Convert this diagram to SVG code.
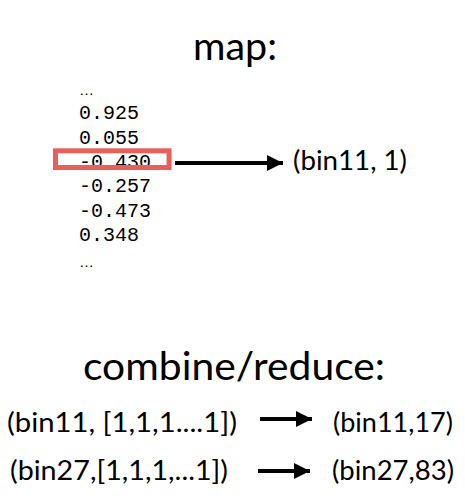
<svg xmlns="http://www.w3.org/2000/svg" width="465" height="496" viewBox="0 0 465 496">
<style>
.t{font-family:Lato,"Open Sans",sans-serif;fill:#000}
.h{font-size:38px}
.m{font-family:"Liberation Mono","DejaVu Sans Mono",monospace;font-size:20px;fill:#000}
.e{font-family:"Liberation Sans",sans-serif;font-size:15px;fill:#000}
.l{font-size:26px}
.c{stroke:#000;stroke-width:4;fill:none}
</style>
<defs>
<marker id="ah" markerUnits="userSpaceOnUse" markerWidth="18" markerHeight="16" refX="16" refY="8" orient="auto">
<path d="M0,0 L16,8 L0,16 Z" fill="#000"/>
</marker>
</defs>
<g id="title-map"><text class="t h" x="193" y="60" textLength="84" lengthAdjust="spacingAndGlyphs">map:</text></g>
<g id="values">
<text class="e" x="79" y="95">…</text>
<text class="m" x="79" y="119">0.925</text>
<text class="m" x="79" y="143.5">0.055</text>
<text class="m" x="79" y="168">-0.430</text>
<text class="m" x="79" y="192">-0.257</text>
<text class="m" x="79" y="217">-0.473</text>
<text class="m" x="79" y="241">0.348</text>
<text class="e" x="79" y="267">…</text>
</g>
<g id="highlight"><rect x="55.5" y="150.8" width="113.5" height="16.7" fill="none" stroke="#e8605a" stroke-width="5"/></g>
<g id="map-out"><text class="t l" x="293" y="170" textLength="114" lengthAdjust="spacingAndGlyphs">(bin11, 1)</text></g>
<g id="title-reduce"><text class="t h" x="83" y="380" textLength="302" lengthAdjust="spacingAndGlyphs">combine/reduce:</text></g>
<g id="in1"><text class="t l" x="7" y="432" textLength="230" lengthAdjust="spacingAndGlyphs">(bin11, [1,1,1....1])</text></g>
<g id="out1"><text class="t l" x="333" y="432" textLength="120" lengthAdjust="spacingAndGlyphs">(bin11,17)</text></g>
<g id="in2"><text class="t l" x="10" y="480" textLength="218" lengthAdjust="spacingAndGlyphs">(bin27,[1,1,1,...1])</text></g>
<g id="out2"><text class="t l" x="332" y="480" textLength="122" lengthAdjust="spacingAndGlyphs">(bin27,83)</text></g>
<g id="connectors">
<line class="c" x1="175" y1="163" x2="283" y2="163" marker-end="url(#ah)"/>
<line class="c" x1="260" y1="419" x2="312" y2="419" marker-end="url(#ah)"/>
<line class="c" x1="258" y1="471" x2="310" y2="471" marker-end="url(#ah)"/>
</g>
</svg>
